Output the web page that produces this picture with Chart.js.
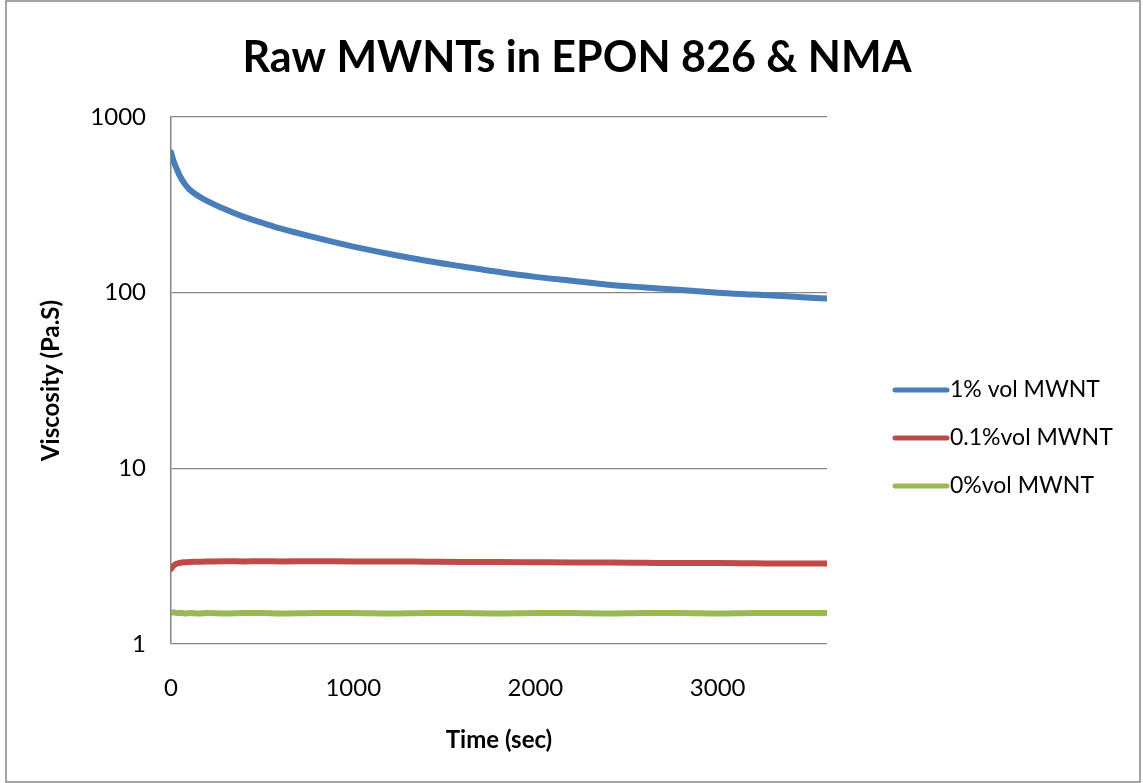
<!DOCTYPE html>
<html>
<head>
<meta charset="utf-8">
<script src="https://cdn.jsdelivr.net/npm/chart.js@4/dist/chart.umd.min.js"></script>
<style>
  html, body { margin: 0; padding: 0; background: #fff; }
  #wrap { width: 1143px; height: 783px; }
</style>
</head>
<body>
<div id="wrap"><canvas id="myChart" width="1143" height="783"></canvas></div>
<script>
// time points (sec)
var times = [0, 10, 20, 30, 45, 60, 80, 100, 150, 200, 300, 400, 500, 600, 800, 1000,
             1200, 1400, 1600, 1800, 2000, 2200, 2400, 2600, 2800, 3000, 3200, 3400, 3600];

// viscosity (Pa.S)
var visc1 = [630, 580, 540, 510, 470, 440, 410, 388, 355, 332, 297, 270, 250, 232, 205, 183,
             166, 152, 141, 131, 123, 117, 111, 107, 103.5, 100, 97.5, 95, 92.5];
var visc01 = [2.68, 2.76, 2.82, 2.86, 2.89, 2.91, 2.92, 2.93, 2.94, 2.95, 2.96, 2.95, 2.96, 2.95, 2.96, 2.95,
              2.95, 2.94, 2.93, 2.93, 2.92, 2.91, 2.91, 2.90, 2.89, 2.89, 2.88, 2.87, 2.87];
var visc0 = [1.52, 1.51, 1.51, 1.50, 1.50, 1.50, 1.49, 1.50, 1.49, 1.50, 1.49, 1.50, 1.50, 1.49, 1.50, 1.50,
             1.49, 1.50, 1.50, 1.49, 1.50, 1.50, 1.49, 1.50, 1.50, 1.49, 1.50, 1.50, 1.50];

var seriesNames = ['1% vol MWNT', '0.1%vol MWNT', '0%vol MWNT'];
var xTicks = [0, 1000, 2000, 3000];
var yTicks = [1, 10, 100, 1000];

var chartColors = {
  blue: '#4A7EBB',
  red: '#BE4B48',
  green: '#98B954',
  grid: '#868686'
};

function pts(ys) {
  return times.map(function (t, i) { return { x: t, y: ys[i] }; });
}

function makeSet(label, ys, col) {
  return {
    label: label,
    data: pts(ys),
    borderColor: col,
    backgroundColor: col,
    borderWidth: 6,
    pointRadius: 0,
    borderCapStyle: 'round',
    cubicInterpolationMode: 'monotone',
    fill: false
  };
}

var frameAndText = {
  id: 'frameAndText',
  beforeDraw: function (chart) {
    var ctx = chart.ctx;
    ctx.save();
    ctx.fillStyle = '#fff';
    ctx.fillRect(0, 0, chart.width, chart.height);
    ctx.strokeStyle = chartColors.grid;
    ctx.lineWidth = 1.5;
    ctx.strokeRect(6, 1, 1134, 781);
    ctx.restore();
  },
  afterDraw: function (chart) {
    var ctx = chart.ctx;
    ctx.save();
    // title
    ctx.fillStyle = '#000';
    ctx.font = 'bold 43px Lato';
    ctx.textAlign = 'center';
    ctx.textBaseline = 'middle';
    ctx.fillText('Raw MWNTs in EPON 826 & NMA', 577, 58);
    // legend
    var rows = [390, 438, 486];
    ctx.font = '23px Lato';
    ctx.textAlign = 'left';
    chart.data.datasets.forEach(function (ds, i) {
      ctx.strokeStyle = ds.borderColor;
      ctx.lineWidth = 5;
      ctx.lineCap = 'round';
      ctx.beginPath();
      ctx.moveTo(895, rows[i]);
      ctx.lineTo(947, rows[i]);
      ctx.stroke();
      ctx.fillStyle = '#000';
      ctx.fillText(ds.label, 950, rows[i]);
    });
    ctx.restore();
  }
};

var ctxChart = document.getElementById('myChart').getContext('2d');
var chart = new Chart(ctxChart, {
  type: 'line',
  data: {
    datasets: [
      makeSet(seriesNames[0], visc1, chartColors.blue),
      makeSet(seriesNames[1], visc01, chartColors.red),
      makeSet(seriesNames[2], visc0, chartColors.green)
    ]
  },
  options: {
    responsive: false,
    animation: false,
    layout: { padding: { top: 117, right: 316, bottom: 0, left: 0 } },
    plugins: {
      legend: { display: false },
      title: { display: false },
      tooltip: { enabled: false }
    },
    scales: {
      x: {
        type: 'linear',
        min: 0,
        max: 3600,
        afterFit: function (s) { s.height = 783 - 644; },
        afterBuildTicks: function (s) { s.ticks = xTicks.map(function (v) { return { value: v }; }); },
        grid: { display: false, drawTicks: false },
        border: { display: false },
        ticks: {
          padding: 30,
          color: '#000',
          font: { family: 'Lato', size: 24 },
          callback: function (v) { return String(v); }
        },
        title: {
          display: true,
          text: 'Time (sec)',
          color: '#000',
          font: { family: 'Lato', size: 24, weight: 'bold' },
          padding: { top: 0, bottom: 28 }
        }
      },
      y: {
        type: 'logarithmic',
        min: 1,
        max: 1000,
        afterFit: function (s) { s.width = 171; },
        afterBuildTicks: function (s) { s.ticks = yTicks.map(function (v) { return { value: v }; }); },
        grid: { color: chartColors.grid, lineWidth: 1.3, drawTicks: false },
        border: { display: true, color: chartColors.grid, width: 1.5 },
        ticks: {
          padding: 25,
          color: '#000',
          font: { family: 'Lato', size: 24 },
          callback: function (v) { return String(v); }
        },
        title: {
          display: true,
          text: 'Viscosity (Pa.S)',
          color: '#000',
          font: { family: 'Lato', size: 24, weight: 'bold' },
          padding: { top: 37, bottom: 0 }
        }
      }
    }
  },
  plugins: [frameAndText]
});
</script>
</body>
</html>
